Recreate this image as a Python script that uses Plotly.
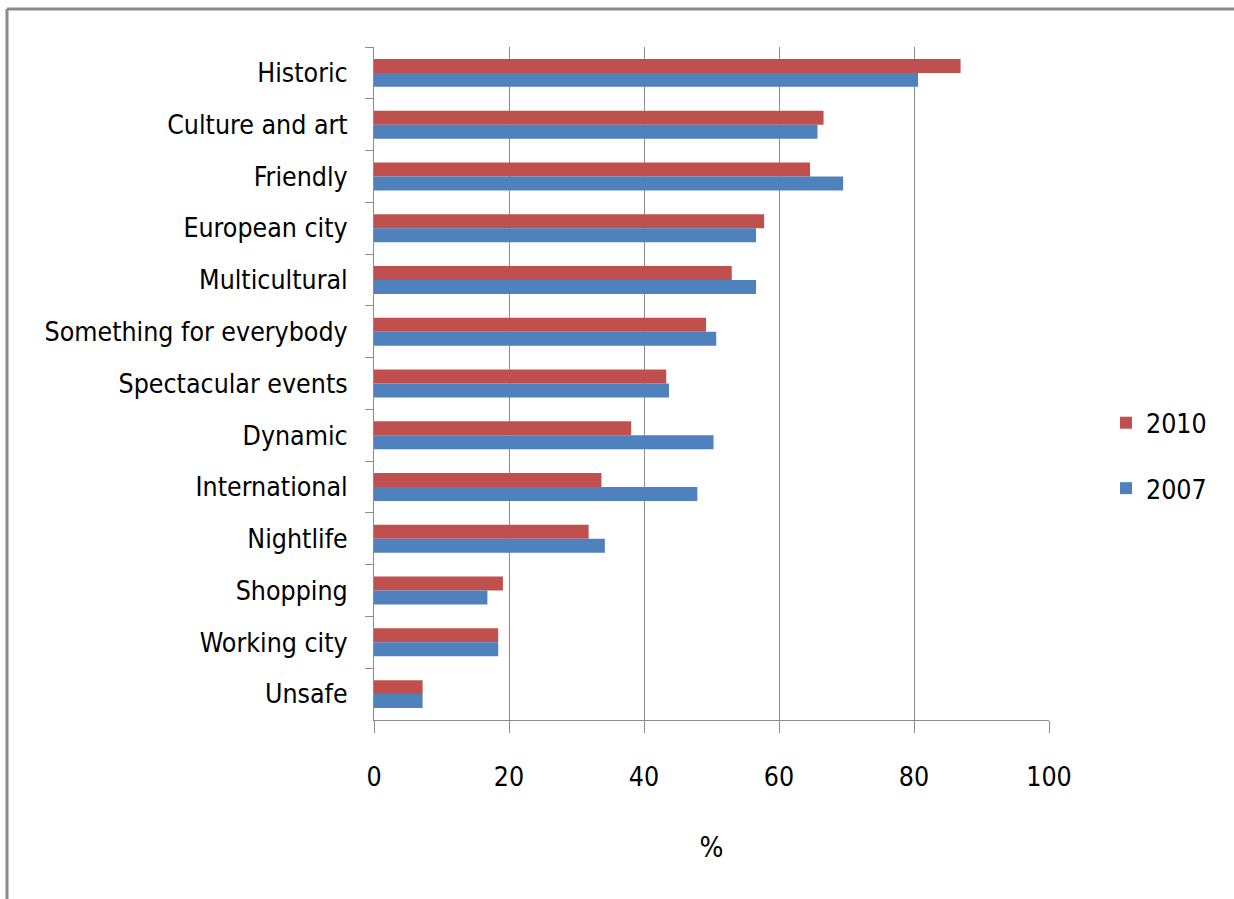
import plotly.graph_objects as go

categories = ["Historic", "Culture and art", "Friendly", "European city", "Multicultural",
              "Something for everybody", "Spectacular events", "Dynamic", "International",
              "Nightlife", "Shopping", "Working city", "Unsafe"]
values_2010 = [86.9, 66.6, 64.6, 57.8, 53.0, 49.2, 43.3, 38.1, 33.7, 31.8, 19.1, 18.4, 7.2]
values_2007 = [80.6, 65.7, 69.5, 56.6, 56.6, 50.7, 43.7, 50.3, 47.9, 34.2, 16.8, 18.4, 7.2]
x_ticks = [0, 20, 40, 60, 80, 100]

FONT = "DejaVu Sans Condensed, Liberation Sans Narrow, sans-serif"

fig = go.Figure()
fig.add_trace(go.Bar(y=categories, x=values_2010, name="2010", orientation="h",
                     marker=dict(color="#C0504D", line=dict(width=0)), legendgroup="a"))
fig.add_trace(go.Bar(y=categories, x=values_2007, name="2007", orientation="h",
                     marker=dict(color="#4F81BD", line=dict(width=0)), legendgroup="b"))

W, H = 1234, 899
L, R, T, B = 374, W - 1049, 47, H - 720

def px(x):
    return (x - L) / (W - L - R)

def py(y):
    return (H - B - y) / (H - T - B)

fig.update_layout(
    width=W, height=H,
    margin=dict(l=L, r=R, t=T, b=B),
    paper_bgcolor="white", plot_bgcolor="white",
    barmode="group", bargap=0.46, bargroupgap=0,
    font=dict(family=FONT, size=26.5, color="#000000"),
    showlegend=True,
    legend=dict(x=px(1106), y=py(399), xanchor="left", yanchor="top",
                font=dict(size=26.5), tracegroupgap=28, bgcolor="rgba(0,0,0,0)",
                itemwidth=30),
    xaxis=dict(range=[0, 100], tickvals=x_ticks, showgrid=True, gridcolor="#8C8C8C",
               gridwidth=1, showline=True, linecolor="#8C8C8C", linewidth=1,
               ticks="outside", ticklen=12, tickcolor="#8C8C8C", zeroline=False,
               ticklabelstandoff=21,
               title=dict(text="%", standoff=46, font=dict(size=28))),
    yaxis=dict(autorange="reversed", showline=True, linecolor="#8C8C8C", linewidth=1,
               ticks="outside", ticklen=8, tickcolor="#8C8C8C", tickson="boundaries",
               showgrid=False, ticklabelstandoff=20),
    shapes=[
        dict(type="line", xref="paper", yref="paper", x0=px(7), x1=px(1240), y0=py(9), y1=py(9),
             line=dict(color="#8A8A8A", width=3)),
        dict(type="line", xref="paper", yref="paper", x0=px(7), x1=px(7), y0=py(9), y1=py(905),
             line=dict(color="#8A8A8A", width=3)),
    ],
)

fig.write_html("out.html", config={"displayModeBar": False},
               post_script="document.body.style.margin='0';document.body.style.overflow='hidden';")
